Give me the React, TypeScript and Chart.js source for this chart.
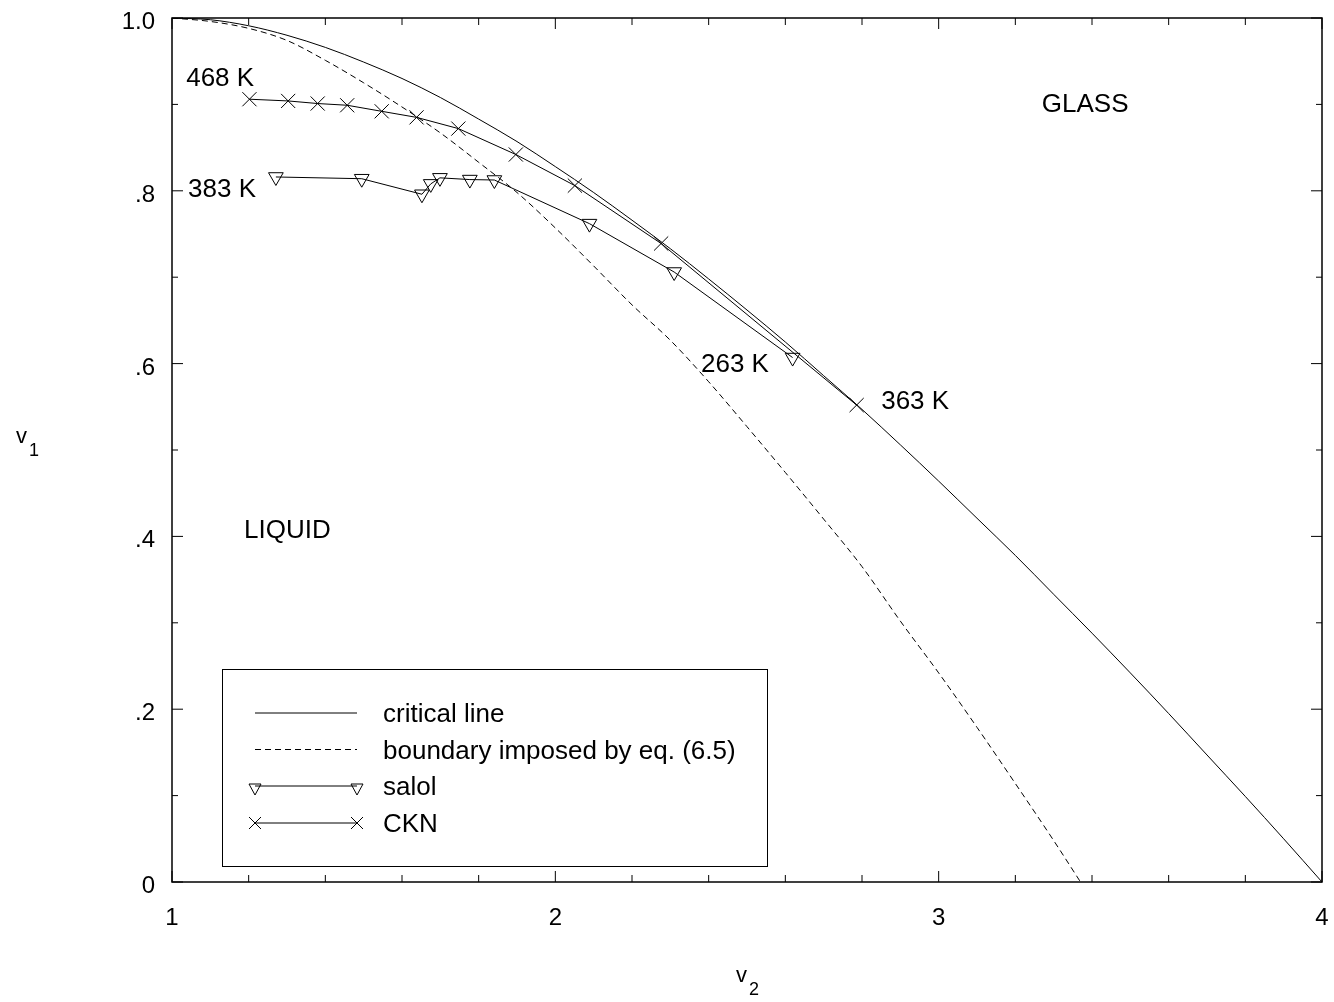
import React, { useEffect, useRef } from 'react';
import { Chart, registerables } from 'chart.js';

Chart.register(...registerables);

// ---- data ----
const criticalV2 = [1.0, 1.1, 1.2, 1.3, 1.4, 1.5, 1.6, 1.7, 1.8, 1.9, 2.0, 2.1, 2.2, 2.3, 2.4, 2.5, 2.6, 2.7, 2.8, 2.9, 3.0, 3.1, 3.2, 3.3, 3.4, 3.5, 3.6, 3.7, 3.8, 3.9, 4.0];
const criticalV1 = [1.0, 0.998, 0.991, 0.98, 0.966, 0.949, 0.93, 0.908, 0.883, 0.857, 0.828, 0.798, 0.766, 0.733, 0.698, 0.662, 0.625, 0.586, 0.547, 0.506, 0.464, 0.421, 0.378, 0.333, 0.288, 0.242, 0.195, 0.147, 0.099, 0.05, 0.0];

const boundaryV2 = [1.0, 1.1, 1.2, 1.3, 1.4, 1.5, 1.6, 1.7, 1.8, 1.9, 2.0, 2.1, 2.2, 2.3, 2.4, 2.5, 2.6, 2.7, 2.8, 2.9, 3.0, 3.1, 3.2, 3.3, 3.37];
const boundaryV1 = [1.0, 0.996, 0.988, 0.974, 0.951, 0.925, 0.897, 0.867, 0.833, 0.798, 0.757, 0.713, 0.668, 0.627, 0.579, 0.527, 0.474, 0.42, 0.365, 0.302, 0.242, 0.179, 0.114, 0.048, 0.0];

const salolV2 = [1.271, 1.495, 1.652, 1.675, 1.699, 1.777, 1.841, 2.089, 2.31, 2.619];
const salolV1 = [0.816, 0.814, 0.796, 0.808, 0.815, 0.813, 0.8125, 0.762, 0.706, 0.607];

const cknV2 = [1.202, 1.303, 1.38, 1.457, 1.547, 1.638, 1.747, 1.897, 2.051, 2.276, 2.786];
const cknV1 = [0.906, 0.904, 0.901, 0.899, 0.892, 0.885, 0.872, 0.842, 0.806, 0.739, 0.552];

const xTickValues = [1, 2, 3, 4];
const xTickLabels = ['1', '2', '3', '4'];
const yTickValues = [0, 0.2, 0.4, 0.6, 0.8, 1.0];
const yTickLabels = ['0', '.2', '.4', '.6', '.8', '1.0'];

const legendLabels = ['critical line', 'boundary imposed by eq. (6.5)', 'salol', 'CKN'];

const annotationTexts = ['468 K', '383 K', '263 K', '363 K', 'GLASS', 'LIQUID'];
const annotationV2 = [1.037, 1.042, 2.38, 2.85, 3.269, 1.188];
const annotationV1 = [0.921, 0.793, 0.59, 0.548, 0.891, 0.398];

const FONT = '"Liberation Sans", Arial, Helvetica, sans-serif';

const toPoints = (xs: number[], ys: number[]) => xs.map((v, i) => ({ x: v, y: ys[i] }));

function drawTriangleDown(ctx: CanvasRenderingContext2D, cx: number, topY: number, w: number, h: number) {
  ctx.beginPath();
  ctx.moveTo(cx - w / 2, topY);
  ctx.lineTo(cx + w / 2, topY);
  ctx.lineTo(cx, topY + h);
  ctx.closePath();
  ctx.stroke();
}

function drawCross(ctx: CanvasRenderingContext2D, cx: number, cy: number, half: number) {
  ctx.beginPath();
  ctx.moveTo(cx - half, cy - half);
  ctx.lineTo(cx + half, cy + half);
  ctx.moveTo(cx + half, cy - half);
  ctx.lineTo(cx - half, cy + half);
  ctx.stroke();
}

const overlayPlugin = {
  id: 'overlay',
  afterDraw(chart: any) {
    const { ctx, chartArea: a, scales } = chart;
    const x = scales.x;
    const y = scales.y;
    ctx.save();
    ctx.strokeStyle = '#000';
    ctx.fillStyle = '#000';

    // frame
    ctx.lineWidth = 1.5;
    ctx.strokeRect(a.left, a.top, a.right - a.left, a.bottom - a.top);

    // inward ticks on all four sides
    ctx.lineWidth = 1;
    ctx.beginPath();
    for (let i = 0; i <= 15; i++) {
      const px = x.getPixelForValue(1 + i * 0.2);
      const len = i % 5 === 0 ? 11 : 7;
      ctx.moveTo(px, a.bottom);
      ctx.lineTo(px, a.bottom - len);
      ctx.moveTo(px, a.top);
      ctx.lineTo(px, a.top + len);
    }
    for (let i = 0; i <= 10; i++) {
      const py = y.getPixelForValue(i * 0.1);
      const len = i % 2 === 0 ? 11 : 6;
      ctx.moveTo(a.left, py);
      ctx.lineTo(a.left + len, py);
      ctx.moveTo(a.right, py);
      ctx.lineTo(a.right - len, py);
    }
    ctx.stroke();

    // tick labels
    ctx.font = `24px ${FONT}`;
    ctx.textBaseline = 'alphabetic';
    ctx.textAlign = 'center';
    xTickValues.forEach((v, i) => {
      ctx.fillText(xTickLabels[i], x.getPixelForValue(v), a.bottom + 43);
    });
    ctx.textAlign = 'right';
    yTickValues.forEach((v, i) => {
      ctx.fillText(yTickLabels[i], a.left - 17, y.getPixelForValue(v) + 11);
    });

    // annotations
    ctx.font = `26px ${FONT}`;
    ctx.textAlign = 'left';
    annotationTexts.forEach((t, i) => {
      ctx.fillText(t, x.getPixelForValue(annotationV2[i]), y.getPixelForValue(annotationV1[i]));
    });

    // axis titles with subscripts
    ctx.font = `22px ${FONT}`;
    ctx.fillText('v', 16, 443);
    ctx.font = `18px ${FONT}`;
    ctx.fillText('1', 29, 456);
    ctx.font = `22px ${FONT}`;
    ctx.fillText('v', 736, 982);
    ctx.font = `18px ${FONT}`;
    ctx.fillText('2', 749, 995);

    // legend box
    const bx = a.left + 50;
    const by = a.top + 651;
    const bw = 545;
    const bh = 197;
    ctx.lineWidth = 1;
    ctx.strokeRect(bx + 0.5, by + 0.5, bw, bh);
    const rows = [44, 80.5, 117, 154];
    const l0 = bx + 33;
    const l1 = bx + 135;
    const tx = bx + 161;
    ctx.font = `26px ${FONT}`;
    rows.forEach((ry, i) => {
      const yy = by + ry;
      ctx.save();
      ctx.lineWidth = 1;
      if (i === 1) ctx.setLineDash([6, 4]);
      ctx.beginPath();
      ctx.moveTo(l0, yy);
      ctx.lineTo(l1, yy);
      ctx.stroke();
      ctx.restore();
      if (i === 2) {
        drawTriangleDown(ctx, l0, yy - 2, 12, 11);
        drawTriangleDown(ctx, l1, yy - 2, 12, 11);
      }
      if (i === 3) {
        drawCross(ctx, l0, yy, 6);
        drawCross(ctx, l1, yy, 6);
      }
      ctx.fillText(legendLabels[i], tx, yy + 9);
    });
    ctx.restore();
  },
};

export default function App() {
  const canvasRef = useRef<HTMLCanvasElement | null>(null);

  useEffect(() => {
    if (!canvasRef.current) return;
    Chart.defaults.font.family = FONT;
    Chart.defaults.color = '#000';
    const chart = new Chart(canvasRef.current, {
      type: 'scatter',
      data: {
        datasets: [
          {
            label: legendLabels[0],
            data: toPoints(criticalV2, criticalV1),
            showLine: true,
            borderColor: '#000',
            borderWidth: 1,
            pointRadius: 0,
            cubicInterpolationMode: 'monotone',
          },
          {
            label: legendLabels[1],
            data: toPoints(boundaryV2, boundaryV1),
            showLine: true,
            borderColor: '#000',
            borderWidth: 1,
            borderDash: [6, 4],
            pointRadius: 0,
            cubicInterpolationMode: 'monotone',
          },
          {
            label: legendLabels[2],
            data: toPoints(salolV2, salolV1),
            showLine: true,
            borderColor: '#000',
            borderWidth: 1,
            pointStyle: 'triangle',
            rotation: 180,
            pointRadius: 8.5,
            pointBorderWidth: 1,
            pointBorderColor: '#000',
            pointBackgroundColor: 'rgba(0,0,0,0)',
            tension: 0,
          },
          {
            label: legendLabels[3],
            data: toPoints(cknV2, cknV1),
            showLine: true,
            borderColor: '#000',
            borderWidth: 1,
            pointStyle: 'crossRot',
            pointRadius: 10,
            pointBorderWidth: 1,
            pointBorderColor: '#000',
            pointBackgroundColor: 'rgba(0,0,0,0)',
            tension: 0,
          },
        ],
      } as any,
      options: {
        responsive: false,
        animation: false,
        events: [],
        layout: { padding: { left: 0, top: 18, right: 12, bottom: 0 } },
        plugins: {
          legend: { display: false },
          tooltip: { enabled: false },
        },
        scales: {
          x: {
            type: 'linear',
            min: 1,
            max: 4,
            grid: { display: false, drawTicks: false },
            border: { display: false },
            ticks: { display: false, stepSize: 1 },
            afterFit: (s: any) => {
              s.height = 120;
            },
          },
          y: {
            type: 'linear',
            min: 0,
            max: 1,
            grid: { display: false, drawTicks: false },
            border: { display: false },
            ticks: { display: false, stepSize: 0.2 },
            afterFit: (s: any) => {
              s.width = 172;
            },
          },
        },
      } as any,
      plugins: [overlayPlugin],
    });
    return () => chart.destroy();
  }, []);

  return (
    <div style={{ position: 'absolute', left: 0, top: 0, width: 1334, height: 1002, background: '#fff' }}>
      <canvas ref={canvasRef} width={1334} height={1002} style={{ display: 'block', width: 1334, height: 1002 }} />
    </div>
  );
}
